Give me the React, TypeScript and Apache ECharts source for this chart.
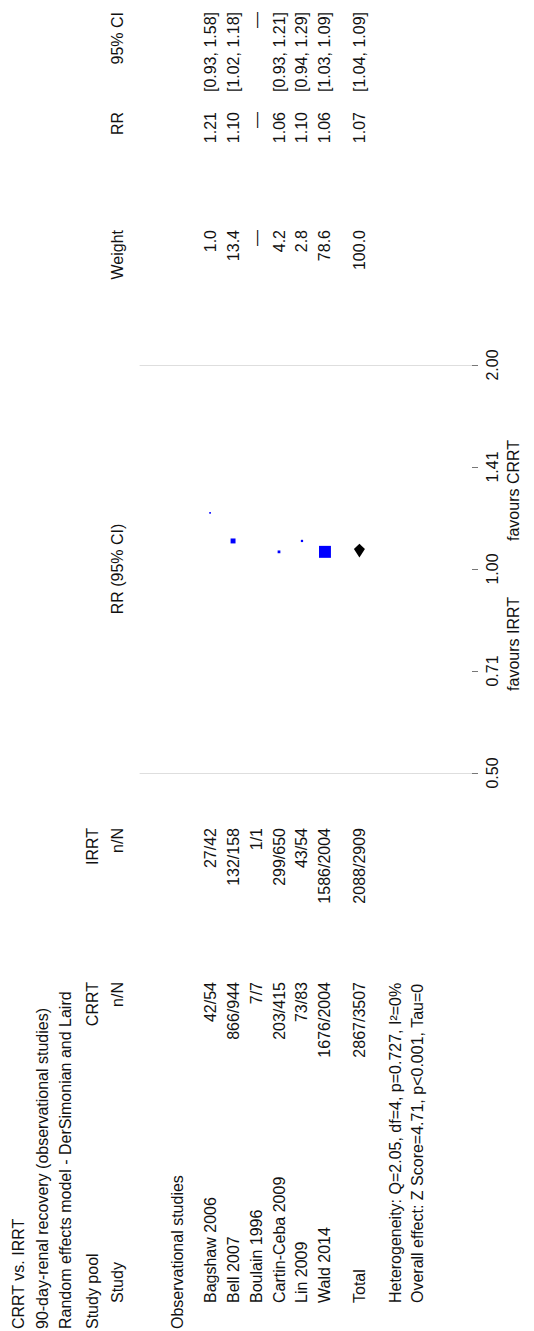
import React, { useEffect, useRef } from "react";
import * as echarts from "echarts";

// ---------- data ----------
const titleLines = [
  "CRRT vs. IRRT",
  "90-day-renal recovery (observational studies)",
  "Random effects model - DerSimonian and Laird",
];
const groupName = "Observational studies";
const studies = ["Bagshaw 2006", "Bell 2007", "Boulain 1996", "Cartin-Ceba 2009", "Lin 2009", "Wald 2014"];
const crrtCounts = ["42/54", "866/944", "7/7", "203/415", "73/83", "1676/2004"];
const irrtCounts = ["27/42", "132/158", "1/1", "299/650", "43/54", "1586/2004"];
const weights: (number | null)[] = [1.0, 13.4, null, 4.2, 2.8, 78.6];
const rrValues: (number | null)[] = [1.21, 1.1, null, 1.06, 1.1, 1.06];
const ciLower: (number | null)[] = [0.93, 1.02, null, 0.93, 0.94, 1.03];
const ciUpper: (number | null)[] = [1.58, 1.18, null, 1.21, 1.29, 1.09];
const totalLabel = "Total";
const totalCrrt = "2867/3507";
const totalIrrt = "2088/2909";
const totalWeight = 100.0;
const totalRR = 1.07;
const totalLower = 1.04;
const totalUpper = 1.09;
const heterogeneityText = "Heterogeneity: Q=2.05, df=4, p=0.727, I\u00b2=0%";
const overallText = "Overall effect: Z Score=4.71, p<0.001, Tau=0";
const tickLabels = ["0.50", "0.71", "1.00", "1.41", "2.00"];
const favoursLeft = "favours IRRT";
const favoursRight = "favours CRRT";

// ---------- layout ----------
const W = 534;
const H = 1331;
const FONT = '16px "Liberation Sans", Arial, Helvetica, sans-serif';
const gridLeft = 140;
const gridRight = 62;
const gridTop = 365;
const gridBottom = 558;
const rowMin = -3.05;
const rowMax = 11.4;
const totalRow = 6.5;
const rowX = (r: number) => gridLeft + ((r - rowMin) * (W - gridLeft - gridRight)) / (rowMax - rowMin);
const plotMidY = gridTop + (H - gridTop - gridBottom) / 2;

const colStudy = 1329;
const colStudyIndent = 1303;
const colCrrt = 982;
const colIrrt = 828;
const colWeight = 230;
const colRR = 112;
const colCI = 12;

const dash = "\u2014";
const fmt = (v: number | null, d: number) => (v == null ? dash : v.toFixed(d));

function txt(text: string, x: number, y: number, align: "left" | "right" | "center") {
  return {
    type: "text",
    x,
    y,
    rotation: Math.PI / 2,
    silent: true,
    style: {
      text,
      font: FONT,
      fill: "#111",
      align,
      textAlign: align,
      verticalAlign: "middle",
      textVerticalAlign: "middle",
    },
  };
}

export default function App() {
  const ref = useRef<HTMLDivElement>(null);
  useEffect(() => {
    if (!ref.current) return;
    const chart = echarts.init(ref.current, undefined, { renderer: "svg" });

    const graphics: any[] = [];
    titleLines.forEach((t, i) => graphics.push(txt(t, [18, 42, 65][i], colStudy, "left")));
    // header rows
    graphics.push(txt("Study pool", 92, colStudy, "left"));
    graphics.push(txt("CRRT", 92, colCrrt, "right"));
    graphics.push(txt("IRRT", 92, colIrrt, "right"));
    graphics.push(txt("Study", 117, colStudyIndent, "left"));
    graphics.push(txt("n/N", 117, colCrrt, "right"));
    graphics.push(txt("n/N", 117, colIrrt, "right"));
    graphics.push(txt("RR (95% CI)", 117, plotMidY, "center"));
    graphics.push(txt("Weight", 117, colWeight, "right"));
    graphics.push(txt("RR", 117, colRR, "right"));
    graphics.push(txt("95% CI", 117, colCI, "right"));
    graphics.push(txt(groupName, 177, colStudy, "left"));
    studies.forEach((s, i) => {
      const x = rowX(i);
      graphics.push(txt(s, x, colStudyIndent, "left"));
      graphics.push(txt(crrtCounts[i], x, colCrrt, "right"));
      graphics.push(txt(irrtCounts[i], x, colIrrt, "right"));
      graphics.push(txt(fmt(weights[i], 1), x, colWeight, "right"));
      graphics.push(txt(fmt(rrValues[i], 2), x, colRR, "right"));
      const ci =
        ciLower[i] == null || ciUpper[i] == null
          ? dash
          : `[${(ciLower[i] as number).toFixed(2)}, ${(ciUpper[i] as number).toFixed(2)}]`;
      graphics.push(txt(ci, x, colCI, "right"));
    });
    const tx = rowX(totalRow);
    graphics.push(txt(totalLabel, tx, colStudyIndent, "left"));
    graphics.push(txt(totalCrrt, tx, colCrrt, "right"));
    graphics.push(txt(totalIrrt, tx, colIrrt, "right"));
    graphics.push(txt(totalWeight.toFixed(1), tx, colWeight, "right"));
    graphics.push(txt(totalRR.toFixed(2), tx, colRR, "right"));
    graphics.push(txt(`[${totalLower.toFixed(2)}, ${totalUpper.toFixed(2)}]`, tx, colCI, "right"));
    graphics.push(txt(heterogeneityText, 395, colStudyIndent, "left"));
    graphics.push(txt(overallText, 417, colStudyIndent, "left"));
    graphics.push(txt(favoursLeft, 513, plotMidY + 28, "right"));
    graphics.push(txt(favoursRight, 513, plotMidY - 28, "left"));

    const studyPoints = studies
      .map((s, i) => (rrValues[i] == null ? null : [i, rrValues[i], weights[i]]))
      .filter((p) => p != null);

    const xAxisBase = {
      type: "value",
      min: rowMin,
      max: rowMax,
      axisLine: { show: true, onZero: false, lineStyle: { color: "#dedede", width: 1 } },
      axisTick: { show: false },
      axisLabel: { show: false },
      splitLine: { show: false },
    };

    chart.setOption({
      animation: false,
      backgroundColor: "#ffffff",
      grid: { left: gridLeft, right: gridRight, top: gridTop, bottom: gridBottom, containLabel: false },
      xAxis: [
        { ...xAxisBase, position: "bottom" },
        { ...xAxisBase, position: "top" },
      ],
      yAxis: {
        type: "log",
        logBase: Math.SQRT2,
        min: 0.5,
        max: 2,
        position: "right",
        axisLine: { show: false, onZero: false },
        axisTick: { show: true, length: 6, lineStyle: { color: "#777" } },
        splitLine: { show: false },
        axisLabel: {
          rotate: 90,
          margin: 12,
          fontSize: 16,
          fontFamily: '"Liberation Sans", Arial, sans-serif',
          color: "#111",
          formatter: (v: number) => {
            const s = v.toFixed(2);
            return tickLabels.indexOf(s) >= 0 ? s : "";
          },
        },
      },
      series: [
        {
          type: "scatter",
          xAxisIndex: 0,
          yAxisIndex: 0,
          symbol: "rect",
          symbolSize: (v: number[]) => Math.max(1.6, 1.35 * Math.sqrt(v[2])),
          itemStyle: { color: "#0000ff", opacity: 1 },
          data: studyPoints,
          silent: true,
        },
        {
          type: "custom",
          xAxisIndex: 0,
          yAxisIndex: 0,
          silent: true,
          data: [[totalRow, totalRR, totalLower, totalUpper]],
          renderItem: (params: any, api: any) => {
            const row = api.value(0);
            const pEst = api.coord([row, api.value(1)]);
            const pLo = api.coord([row, api.value(2)]);
            const pHi = api.coord([row, api.value(3)]);
            const half = api.coord([row + 0.24, api.value(1)])[0] - pEst[0];
            return {
              type: "polygon",
              shape: {
                points: [
                  [pEst[0] - half, pEst[1]],
                  [pHi[0], pHi[1]],
                  [pEst[0] + half, pEst[1]],
                  [pLo[0], pLo[1]],
                ],
              },
              style: { fill: "#000" },
            };
          },
        },
      ],
      graphic: graphics,
    });
    return () => chart.dispose();
  }, []);
  return (
    <div
      ref={ref}
      style={{ position: "absolute", left: 0, top: 0, width: W, height: H, background: "#fff" }}
    />
  );
}
